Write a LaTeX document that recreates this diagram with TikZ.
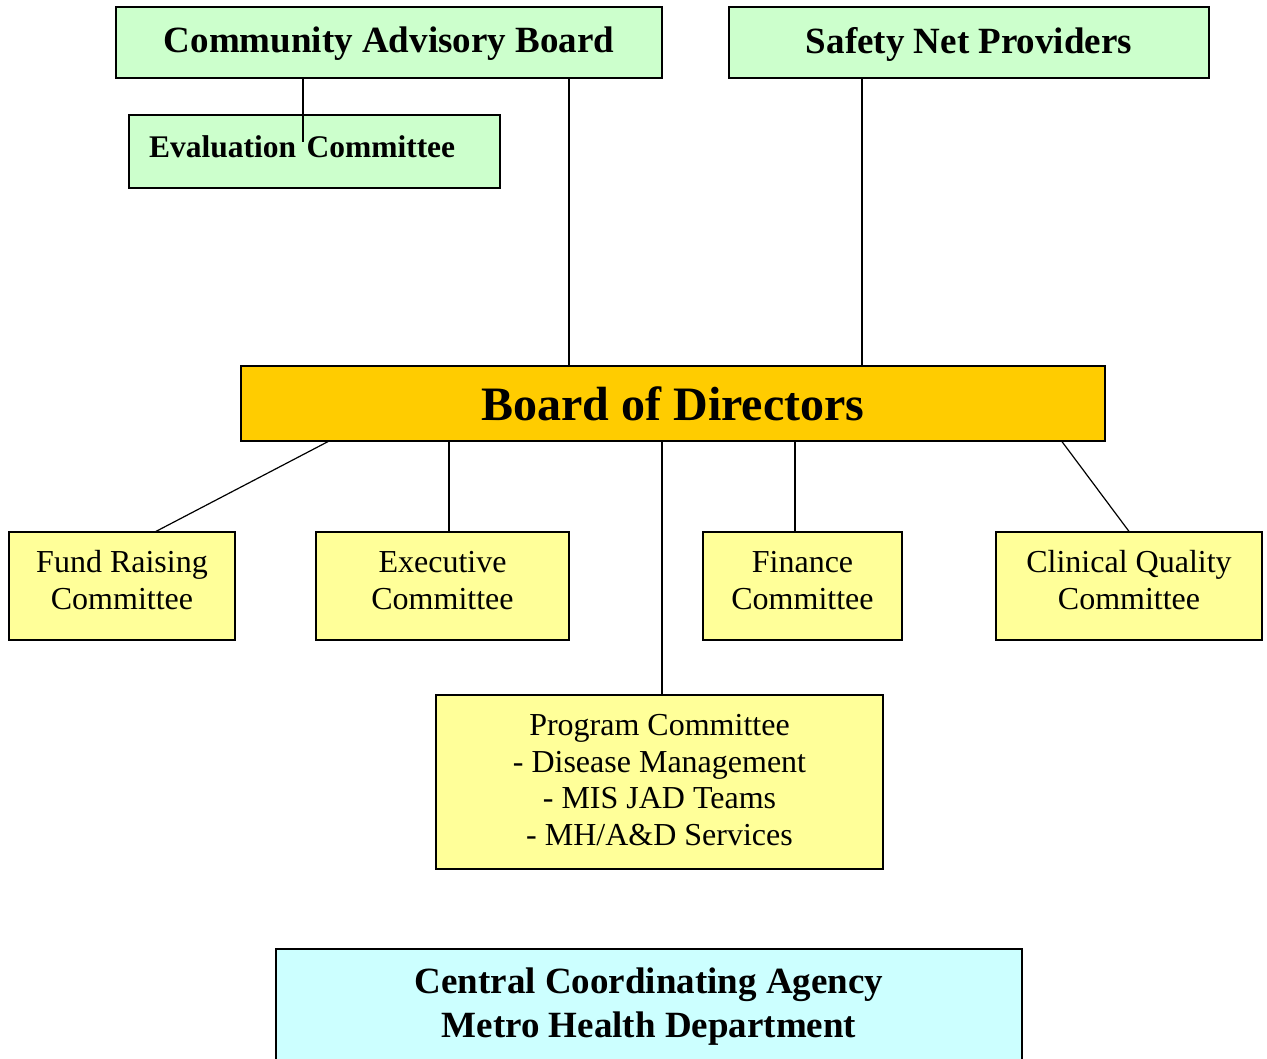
\documentclass[tikz,border=0pt]{standalone}
\usepackage{fontspec}
\setmainfont{Liberation Serif}
\usetikzlibrary{positioning}
\definecolor{mint}{HTML}{CCFFCC}
\definecolor{lemon}{HTML}{FFFF99}
\definecolor{amber}{HTML}{FFCC00}
\definecolor{ice}{HTML}{CCFFFF}
\begin{document}
\begin{tikzpicture}[x=1pt, y=-1pt, line width=1.2pt, greenbox/.style={rectangle,draw,fill=mint,inner sep=0pt,font=\fontsize{37}{44}\selectfont\bfseries}, yellowbox/.style={rectangle,draw,fill=lemon,inner sep=0pt,align=center,font=\fontsize{32}{37}\selectfont}, topbox/.style={rectangle,draw,fill=amber,inner sep=0pt,font=\fontsize{48}{56}\selectfont\bfseries}, agencybox/.style={rectangle,draw,fill=ice,inner sep=0pt,align=center,font=\fontsize{37}{44}\selectfont\bfseries}]
		\useasboundingbox (0,0) rectangle (1267,1059);
		\clip (0,0) rectangle (1267,1059);
		\node[greenbox, minimum width=546, minimum height=71, text depth=5] (cab) at (389, 42.5) {Community Advisory Board};
		\node[greenbox, minimum width=371, minimum height=73, text width=331, inner xsep=20, align=left, text depth=10, font=\fontsize{31.5}{38}\selectfont\bfseries] (eval) at (314.5, 151.5) {Evaluation Committee};
		\node[greenbox, minimum width=480, minimum height=71, text depth=5] (snp) at (969, 42.5) {Safety Net Providers};
		\node[topbox, minimum width=864, minimum height=75] (bod) at (673, 403.5) {Board of Directors};
		\node[yellowbox, minimum width=226, minimum height=108, text depth=12] (fund) at (122, 586) {Fund Raising\\Committee};
		\node[yellowbox, minimum width=253, minimum height=108, text depth=12] (exec) at (442.5, 586) {Executive\\Committee};
		\node[yellowbox, minimum width=199, minimum height=108, text depth=12] (fin) at (802.5, 586) {Finance\\Committee};
		\node[yellowbox, minimum width=266, minimum height=108, text depth=12] (clin) at (1129, 586) {Clinical Quality\\Committee};
		\node[yellowbox, minimum width=447, minimum height=174, text depth=4, font=\fontsize{32}{36.7}\selectfont] (prog) at (659.5, 782) {Program Committee\\- Disease Management\\- MIS JAD Teams\\- MH/A\&D Services};
		\node[agencybox, minimum width=746, minimum height=126, text depth=18] (cca) at (649, 1012) {Central Coordinating Agency\\Metro Health Department};
		\coordinate (evaltip) at (303, 142);
		\draw (cab.south -| evaltip) -- (evaltip);
		\draw (cab.south -| 569,0) -- (bod.north -| 569,0);
		\draw (snp.south -| 862,0) -- (bod.north -| 862,0);
		\draw (bod.south -| 328,0) -- (fund.north -| 156,0);
		\draw (bod.south -| 449,0) -- (exec.north -| 449,0);
		\draw (bod.south -| 662,0) -- (prog.north -| 662,0);
		\draw (bod.south -| 795,0) -- (fin.north -| 795,0);
		\draw (bod.south -| 1062,0) -- (clin.north);
		
	\end{tikzpicture}
\end{document}
